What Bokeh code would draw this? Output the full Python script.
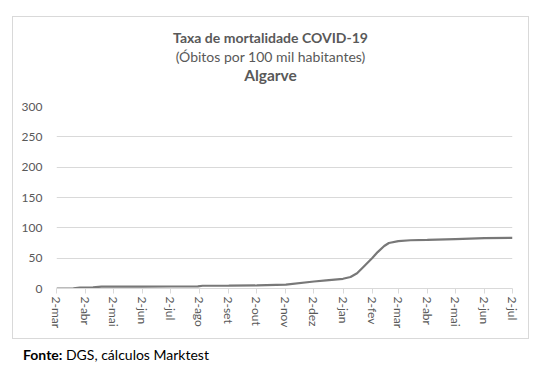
import pandas as pd
from bokeh.plotting import figure
from bokeh.layouts import column
from bokeh.models import FixedTicker, Range1d, Div
from bokeh.embed import file_html
from bokeh.resources import INLINE

dates = ["2020-03-02", "2020-03-20", "2020-03-27", "2020-04-10", "2020-04-19",
         "2020-05-02", "2020-06-02", "2020-07-02", "2020-07-31", "2020-08-05",
         "2020-09-02", "2020-10-02", "2020-11-02", "2020-12-02", "2020-12-15",
         "2021-01-02", "2021-01-10", "2021-01-17", "2021-01-24", "2021-02-02",
         "2021-02-08", "2021-02-15", "2021-02-20", "2021-03-02", "2021-03-15",
         "2021-04-02", "2021-05-02", "2021-06-02", "2021-07-02"]
values = [0.0, 0.3, 1.5, 2.0, 3.0,
          3.1, 3.2, 3.3, 3.4, 4.5,
          4.7, 5.0, 6.5, 11.5, 13.5,
          16.0, 19.0, 25.0, 36.0, 50.0,
          60.0, 70.0, 75.0, 78.0, 79.5,
          80.0, 81.5, 83.0, 83.5]

tick_dates = ["2020-03-02", "2020-04-02", "2020-05-02", "2020-06-02", "2020-07-02",
              "2020-08-02", "2020-09-02", "2020-10-02", "2020-11-02", "2020-12-02",
              "2021-01-02", "2021-02-02", "2021-03-02", "2021-04-02", "2021-05-02",
              "2021-06-02", "2021-07-02"]
tick_labels = ["2-mar", "2-abr", "2-mai", "2-jun", "2-jul", "2-ago", "2-set", "2-out",
               "2-nov", "2-dez", "2-jan", "2-fev", "2-mar", "2-abr", "2-mai", "2-jun", "2-jul"]
y_ticks = [0, 50, 100, 150, 200, 250, 300]

title1 = "Taxa de mortalidade COVID-19"
title2 = "(Óbitos por 100 mil habitantes)"
title3 = "Algarve"
source_html = "<b>Fonte:</b> DGS, cálculos Marktest"

start = pd.Timestamp(tick_dates[0])
x = [(pd.Timestamp(d) - start).days for d in dates]
tx = [(pd.Timestamp(d) - start).days for d in tick_dates]

FONT = "Lato"
GREY = "#595959"
BORDER = "1px solid #d9d9d9"

p = figure(width=517, height=240, output_backend="svg", toolbar_location=None,
           x_range=Range1d(tx[0], tx[-1]), y_range=Range1d(0, 300),
           min_border_left=43, min_border_right=18, min_border_top=7, min_border_bottom=51)
p.outline_line_color = None
p.margin = (0, 0, 0, 12)
p.styles = {"border": BORDER, "border-top": "none", "box-sizing": "border-box"}

p.line(x, values, line_color="#787878", line_width=2.2)

p.xgrid.grid_line_color = None
p.ygrid.grid_line_color = "#d9d9d9"
p.ygrid.ticker = FixedTicker(ticks=y_ticks)

ya = p.yaxis[0]
ya.ticker = FixedTicker(ticks=y_ticks)
ya.axis_line_color = None
ya.major_tick_line_color = None
ya.minor_tick_line_color = None
ya.major_label_standoff = 8
ya.major_label_text_font = FONT
ya.major_label_text_font_size = "12px"
ya.major_label_text_color = GREY

xa = p.xaxis[0]
xa.ticker = FixedTicker(ticks=tx)
xa.major_label_overrides = {t: l for t, l in zip(tx, tick_labels)}
xa.axis_line_color = "#d9d9d9"
xa.major_tick_line_color = "#d9d9d9"
xa.major_tick_out = 5
xa.major_tick_in = 0
xa.minor_tick_line_color = None
xa.major_label_orientation = "vertical"
xa.major_label_standoff = 3
xa.major_label_text_font = FONT
xa.major_label_text_font_size = "12px"
xa.major_label_text_color = GREY

titles_html = (
    f'<div style="width:515px;text-align:center;color:{GREY};font-family:{FONT};padding-top:11px;">'
    f'<div style="font-weight:bold;font-size:14px;line-height:19px;">{title1}</div>'
    f'<div style="font-size:14px;line-height:19px;">{title2}</div>'
    f'<div style="font-weight:bold;font-size:15.5px;line-height:19px;">{title3}</div>'
    '</div>'
)
head = Div(text=titles_html, width=517, height=83, margin=(16, 0, 0, 12),
           styles={"border": BORDER, "border-bottom": "none", "box-sizing": "border-box"})

src = Div(text=source_html, width=300, height=20, margin=(6, 0, 0, 23),
          styles={"font-family": FONT, "font-size": "14px", "color": "black"})

layout = column(head, p, src, spacing=0)
open("out.html", "w").write(file_html(layout, INLINE))
